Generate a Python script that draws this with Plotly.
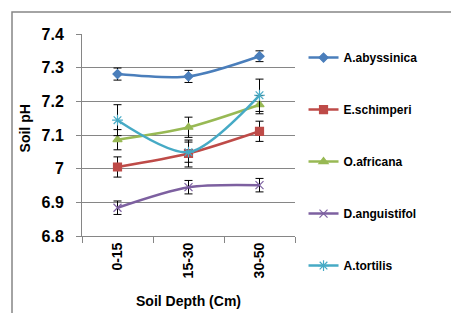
import plotly.graph_objects as go

depths = ["0-15", "15-30", "30-50"]
series_names = ["A.abyssinica", "E.schimperi", "O.africana", "D.anguistifol", "A.tortilis"]
abyssinica = [7.281, 7.274, 7.334]
abyssinica_err = [0.018, 0.018, 0.016]
schimperi = [7.005, 7.045, 7.111]
schimperi_err = [0.030, 0.040, 0.030]
africana = [7.086, 7.123, 7.190]
africana_err = [0.030, 0.030, 0.027]
anguistifol = [6.884, 6.945, 6.951]
anguistifol_err = [0.020, 0.020, 0.020]
tortilis = [7.144, 7.049, 7.218]
tortilis_err = [0.046, 0.030, 0.048]
y_ticks = [6.8, 6.9, 7.0, 7.1, 7.2, 7.3, 7.4]
y_tick_labels = ["6.8", "6.9", "7", "7.1", "7.2", "7.3", "7.4"]

values = [abyssinica, schimperi, africana, anguistifol, tortilis]
errors = [abyssinica_err, schimperi_err, africana_err, anguistifol_err, tortilis_err]
colors = ["#4A7EBB", "#BE4B48", "#98B954", "#7D60A0", "#46AAC5"]
symbols = ["diamond", "square", "triangle-up", "x-thin", "asterisk"]
sizes = [7, 8, 8, 8, 9]

FONT = "Liberation Sans"
fig = go.Figure()
for i, name in enumerate(series_names):
    fig.add_trace(go.Scatter(
        x=depths, y=values[i], name=name, legendgroup=name,
        mode="lines+markers",
        line=dict(color=colors[i], width=2.5, shape="spline", smoothing=0.8),
        marker=dict(symbol=symbols[i], size=sizes[i], color=colors[i],
                    line=dict(color=colors[i], width=1.2)),
        error_y=dict(type="data", array=errors[i], visible=True,
                     color="black", thickness=1, width=4),
    ))

fig.update_layout(
    width=459, height=313,
    margin=dict(l=74, r=172, t=26, b=85),
    paper_bgcolor="white", plot_bgcolor="white",
    font=dict(family=FONT, color="black"),
    showlegend=True,
    legend=dict(x=1.04, xanchor="left", y=0.955, yanchor="top",
                tracegroupgap=33, itemwidth=30, maxheight=313,
                font=dict(family=FONT, size=12, color="black", weight="bold"),
                bgcolor="rgba(0,0,0,0)"),
    xaxis=dict(type="category", tickson="boundaries", ticks="outside",
               ticklen=6, tickcolor="#868686", showgrid=False,
               showline=True, linecolor="#868686", linewidth=1,
               tickangle=-90, range=[-0.5, 2.5],
               tickfont=dict(family=FONT, size=14, weight="bold")),
    yaxis=dict(range=[6.8, 7.4], tickvals=y_ticks, ticktext=y_tick_labels,
               ticks="outside", ticklen=5, tickcolor="#868686",
               ticklabelstandoff=9,
               showgrid=True, gridcolor="#868686", gridwidth=1,
               showline=True, linecolor="#868686", linewidth=1,
               zeroline=False,
               tickfont=dict(family=FONT, size=16, weight="bold")),
    annotations=[
        dict(text="<b>Soil pH</b>", xref="paper", yref="paper",
             x=-0.27, y=0.535, xanchor="center", yanchor="middle",
             textangle=-90, showarrow=False,
             font=dict(family=FONT, size=14)),
        dict(text="<b>Soil Depth (Cm)</b>", xref="paper", yref="paper",
             x=0.502, y=-0.322, xanchor="center", yanchor="middle",
             showarrow=False,
             font=dict(family=FONT, size=14)),
    ],
    shapes=[dict(type="rect", xref="paper", yref="paper",
                 x0=-0.3286, x1=1.784, y0=-0.391, y1=1.109,
                 line=dict(color="#868686", width=1.5))],
)

fig.write_html("out.html")
